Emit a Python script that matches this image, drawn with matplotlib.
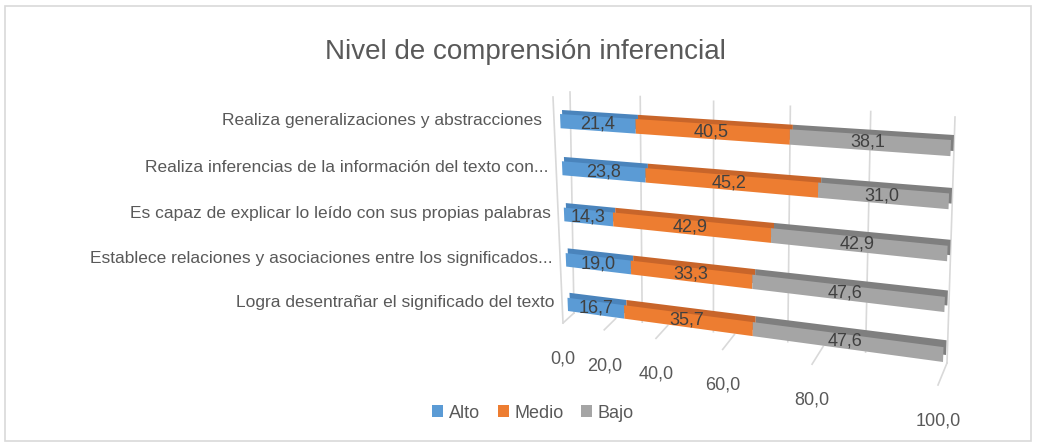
import numpy as np
import matplotlib
matplotlib.use("Agg")
import matplotlib.pyplot as plt
import matplotlib.transforms as mtransforms
from matplotlib.patches import Patch, Rectangle

# data (first category is drawn at the bottom, as Excel does)
categories = ["Logra desentrañar el significado del texto",
              "Establece relaciones y asociaciones entre los significados...",
              "Es capaz de explicar lo leído con sus propias palabras",
              "Realiza inferencias de la información del texto con...",
              "Realiza generalizaciones y abstracciones "]
alto = [16.7, 19.0, 14.3, 23.8, 21.4]
medio = [35.7, 33.3, 42.9, 45.2, 40.5]
bajo = [47.6, 47.6, 42.9, 31.0, 38.1]
series_names = ["Alto", "Medio", "Bajo"]
value_ticks = [0, 20, 40, 60, 80, 100]
title = "Nivel de comprensión inferencial"

front_colors = ["#5B9BD5", "#ED7D31", "#A5A5A5"]
top_colors = ["#4A84BC", "#C8652A", "#7F7F7F"]
text_color = "#595959"
grid_color = "#D9D9D9"

W, H = 1037, 443
BAR_H = 0.3

plt.rcParams['font.family'] = ['Liberation Sans', 'DejaVu Sans']


def fit_h(src, dst):
    A = []
    b = []
    for (x, y), (u, v) in zip(src, dst):
        A.append([x, y, 1, 0, 0, 0, -u * x, -u * y])
        b.append(u)
        A.append([0, 0, 0, x, y, 1, -v * x, -v * y])
        b.append(v)
    h = np.linalg.solve(np.array(A, float), np.array(b, float))
    return np.append(h, 1).reshape(3, 3)


class Perspective(mtransforms.Transform):
    # maps a flat plane of the chart onto image pixels (y down)
    input_dims = 2
    output_dims = 2

    def __init__(self, src, dst):
        super().__init__()
        self.m = fit_h(src, dst)

    def transform_non_affine(self, values):
        pts = np.asarray(values, float).reshape(-1, 2)
        h = np.column_stack([pts, np.ones(len(pts))]) @ self.m.T
        return h[:, :2] / h[:, 2:3]


fig = plt.figure(figsize=(W / 100, H / 100), dpi=100)
ax = fig.add_axes([0, 0, 1, 1])
ax.axis('off')
to_fig = mtransforms.Affine2D().scale(1 / W, -1 / H).translate(0, 1) + fig.transFigure

n = len(categories)
top_lvl = n - 1 + BAR_H / 2
bot_lvl = -BAR_H / 2
front = Perspective([(0, top_lvl), (100, top_lvl), (0, bot_lvl), (100, bot_lvl)],
                    [(560, 114), (951, 140), (568, 311), (943, 362)])
back = Perspective([(0, top_lvl), (100, top_lvl), (0, bot_lvl), (100, bot_lvl)],
                   [(562, 110), (954, 135), (570, 306), (946, 355)])
wall = Perspective([(0, 1), (100, 1), (0, 0), (100, 0)],
                   [(570, 92), (955, 117), (574, 313), (947, 363)])
floor = Perspective([(0, 0), (100, 0), (0, 1), (100, 1)],
                    [(574, 313), (947, 363), (563, 323), (938, 385)])
side = Perspective([(0, 1), (1, 1), (0, 0), (1, 0)],
                   [(570, 92), (553, 97), (574, 313), (563, 323)])

# gridlines on back wall, floor and side edge
for v in value_ticks:
    ax.plot([v, v], [0, 1], color=grid_color, lw=1.2, transform=wall + to_fig, zorder=1)
    ax.plot([v, v], [0, 1], color=grid_color, lw=1.2, transform=floor + to_fig, zorder=1)
    ax.text(v, 1, f"{v:.1f}".replace('.', ','), transform=floor + mtransforms.Affine2D().translate(0, 36) + to_fig,
            ha='center', va='center', fontsize=13, color=text_color)
ax.plot([1, 1], [0, 1], color=grid_color, lw=1.2, transform=side + to_fig, zorder=1)

levels = np.arange(n)
series = [alto, medio, bajo]
lefts = np.zeros(n)
starts = []
for vals in series:
    starts.append(lefts.copy())
    lefts = lefts + np.array(vals)

# back faces first (they show as the darker top and end of each bar)
for vals, left, col in zip(series, starts, top_colors):
    bars = ax.barh(levels, vals, left=left, height=BAR_H, color=col, linewidth=0, zorder=2)
    for p in bars:
        p.set_transform(back + to_fig)
for vals, left, col in zip(series, starts, front_colors):
    bars = ax.barh(levels, vals, left=left, height=BAR_H, color=col, linewidth=0, zorder=3)
    for p in bars:
        p.set_transform(front + to_fig)
    for lv, v, l in zip(levels, vals, left):
        ax.text(l + v / 2, lv, f"{v:.1f}".replace('.', ','), transform=front + to_fig,
                ha='center', va='center', fontsize=13, color="#404040", zorder=5)

for lv, name in zip(levels, categories):
    ax.text(-4, lv, name, transform=front + to_fig, ha='right', va='center',
            fontsize=12.5, color=text_color)

fig.text(525 / W, 1 - 52 / H, title, ha='center', va='center', fontsize=20, color=text_color)

handles = [Patch(facecolor=c, edgecolor='none') for c in front_colors]
ax.legend(handles, series_names, loc='center', bbox_to_anchor=(533 / W, 1 - 413 / H),
          bbox_transform=fig.transFigure, ncol=3, frameon=False, fontsize=13,
          handlelength=0.6, handleheight=0.6, handletextpad=0.3, columnspacing=1.0,
          labelcolor=text_color)

fig.patches.append(Rectangle((5 / W, 1 - 441 / H), 1026 / W, 435 / H, transform=fig.transFigure,
                             fill=False, edgecolor=grid_color, lw=1.2))

fig.savefig("out.png", dpi=100)
